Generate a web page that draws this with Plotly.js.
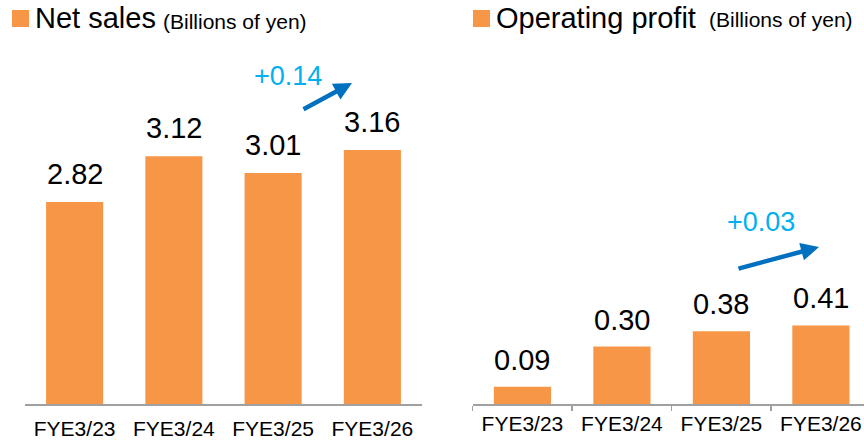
<!DOCTYPE html>
<html>
<head>
<meta charset="utf-8">
<script src="https://cdn.plot.ly/plotly-3.0.1.min.js"></script>
<style>
  html, body { margin: 0; padding: 0; background: #fff; }
  #graph { width: 864px; height: 440px; }
</style>
</head>
<body>
<div id="graph"></div>
<script>
// data
var years = ["FYE3/23", "FYE3/24", "FYE3/25", "FYE3/26"];
var netSales = [2.82, 3.12, 3.01, 3.16];
var opProfit = [0.09, 0.30, 0.38, 0.41];
var salesChange = "+0.14";
var profitChange = "+0.03";

var W = 864, H = 440;
var orange = "#F79646";
var fontFam = "Liberation Sans, Arial, sans-serif";

// helpers for pixel -> paper
function px(x) { return x / W; }
function py(y) { return 1 - y / H; }

/*
* builds the value labels above the bars
*/
function valueLabels(vals, xr, yr, shift) {
    return vals.map(function (v, i) {
        return {
            x: years[i], y: v, xref: xr, yref: yr,
            text: v.toFixed(2), showarrow: false,
            xanchor: "center", yanchor: "middle", yshift: shift,
            font: { family: fontFam, size: 29, color: "#000" }
        };
    });
}

function drawGraph() {
    var trace1, trace2, data, layout, notes;

    trace1 = {
        x: years, y: netSales, type: "bar",
        marker: { color: orange }, width: 0.575,
        xaxis: "x", yaxis: "y", hoverinfo: "none"
    };
    trace2 = {
        x: years, y: opProfit, type: "bar",
        marker: { color: orange }, width: 0.575,
        xaxis: "x2", yaxis: "y2", hoverinfo: "none"
    };
    data = [trace1, trace2];

    notes = valueLabels(netSales, "x", "y", 28)
        .concat(valueLabels(opProfit, "x2", "y2", 27));

    // titles
    notes.push(
        { xref: "paper", yref: "paper", x: px(33), y: py(17.5), xanchor: "left", yanchor: "middle",
          text: "Net sales", showarrow: false, font: { family: fontFam, size: 29, color: "#000" } },
        { xref: "paper", yref: "paper", x: px(161), y: py(21.5), xanchor: "left", yanchor: "middle",
          text: "(Billions of yen)", showarrow: false, font: { family: fontFam, size: 21, color: "#000" } },
        { xref: "paper", yref: "paper", x: px(494), y: py(17.5), xanchor: "left", yanchor: "middle",
          text: "Operating profit", showarrow: false, font: { family: fontFam, size: 29, color: "#000" } },
        { xref: "paper", yref: "paper", x: px(707), y: py(20), xanchor: "left", yanchor: "middle",
          text: "(Billions of yen)", showarrow: false, font: { family: fontFam, size: 21, color: "#000" } }
    );

    // change texts and arrows
    notes.push(
        { xref: "paper", yref: "paper", x: px(288), y: py(76), xanchor: "center", yanchor: "middle",
          text: salesChange, showarrow: false,
          font: { family: fontFam, size: 27, color: "#00B0F0" } },
        { xref: "paper", yref: "paper", x: px(761), y: py(222), xanchor: "center", yanchor: "middle",
          text: profitChange, showarrow: false,
          font: { family: fontFam, size: 27, color: "#00B0F0" } },
        { xref: "paper", yref: "paper", x: px(352), y: py(83), ax: -50, ay: 27, axref: "pixel", ayref: "pixel",
          text: "", showarrow: true, arrowhead: 2, arrowsize: 0.8, arrowwidth: 4.5, arrowcolor: "#0070C0", standoff: 0 },
        { xref: "paper", yref: "paper", x: px(819), y: py(247), ax: -82, ay: 22, axref: "pixel", ayref: "pixel",
          text: "", showarrow: true, arrowhead: 2, arrowsize: 0.8, arrowwidth: 4.5, arrowcolor: "#0070C0", standoff: 0 }
    );

    layout = {
        width: W, height: H,
        margin: { l: 0, r: 0, t: 0, b: 0 },
        paper_bgcolor: "#fff", plot_bgcolor: "rgba(0,0,0,0)",
        showlegend: false,
        font: { family: fontFam, color: "#000" },
        xaxis: {
            domain: [px(25), px(422)], range: [-0.5, 3.5],
            showline: true, linecolor: "#A0A0A0", linewidth: 1.5,
            ticks: "", showgrid: false, zeroline: false, ticklabelstandoff: 5,
            tickfont: { family: fontFam, size: 21, color: "#000" }, fixedrange: true
        },
        yaxis: {
            domain: [36 / H, 400 / H], range: [1.5, 1.5 + 364 / 153],
            visible: false, fixedrange: true
        },
        xaxis2: {
            domain: [px(472.7), 1], range: [-0.5, 3.433],
            showline: true, linecolor: "#A0A0A0", linewidth: 1.5,
            ticks: "outside", tickson: "boundaries", ticklen: 5, tickcolor: "#A0A0A0", tickwidth: 1.5,
            ticklabeloverflow: "allow", ticklabelstandoff: 0,
            showgrid: false, zeroline: false, anchor: "y2",
            tickfont: { family: fontFam, size: 21, color: "#000" }, fixedrange: true
        },
        yaxis2: {
            domain: [36 / H, 400 / H], range: [0, 364 / 191.5],
            visible: false, anchor: "x2", fixedrange: true
        },
        shapes: [
            { type: "rect", xref: "paper", yref: "paper", x0: px(12), x1: px(29), y0: py(27), y1: py(10),
              fillcolor: orange, line: { width: 0 } },
            { type: "rect", xref: "paper", yref: "paper", x0: px(473), x1: px(490), y0: py(27), y1: py(10),
              fillcolor: orange, line: { width: 0 } }
        ],
        annotations: notes
    };

    Plotly.newPlot("graph", data, layout, { staticPlot: true });
}

drawGraph();
</script>
</body>
</html>
